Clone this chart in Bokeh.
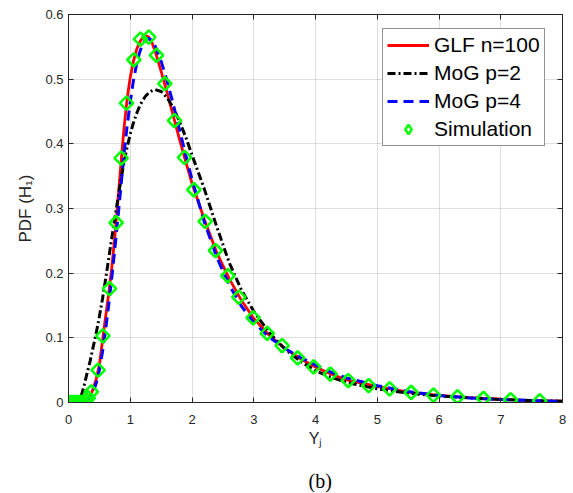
from bokeh.plotting import figure
from bokeh.models import (Range1d, FixedTicker, LinearAxis, Legend, LegendItem,
                          ColumnDataSource, Title)
from bokeh.embed import file_html
from bokeh.resources import INLINE

# ---------------- data ----------------
x_curve = [0, 0.1, 0.15, 0.2, 0.25, 0.3, 0.35, 0.4, 0.45, 0.5, 0.55, 0.6, 0.65, 0.7,
           0.75, 0.8, 0.85, 0.9, 0.95, 1.0, 1.05, 1.1, 1.15, 1.2, 1.25, 1.3, 1.35,
           1.4, 1.5, 1.6, 1.7, 1.8, 1.9, 2.0, 2.2, 2.4, 2.6, 2.8, 3.0, 3.25, 3.5,
           3.75, 4.0, 4.25, 4.5, 5.0, 5.5, 6.0, 6.5, 7.0, 7.5, 8.0]

glf_n100 = [0, 0, 0, 0, 0.001, 0.004, 0.010, 0.021, 0.037, 0.058, 0.095, 0.132, 0.167,
            0.208, 0.256, 0.312, 0.370, 0.425, 0.470, 0.503, 0.527, 0.545, 0.557,
            0.564, 0.567, 0.565, 0.557, 0.544, 0.512, 0.478, 0.442, 0.406, 0.372,
            0.339, 0.283, 0.232, 0.192, 0.158, 0.130, 0.104, 0.084, 0.068, 0.055,
            0.044, 0.035, 0.025, 0.016, 0.011, 0.0075, 0.005, 0.003, 0.002]

mog_p2 = [0, 0, 0.001, 0.008, 0.025, 0.045, 0.064, 0.086, 0.108, 0.133, 0.160, 0.190,
          0.222, 0.254, 0.285, 0.315, 0.345, 0.372, 0.395, 0.415, 0.432, 0.446, 0.458,
          0.467, 0.474, 0.479, 0.482, 0.484, 0.481, 0.471, 0.455, 0.434, 0.410, 0.383,
          0.330, 0.272, 0.217, 0.174, 0.141, 0.108, 0.083, 0.064, 0.049, 0.039, 0.031,
          0.021, 0.0145, 0.010, 0.007, 0.0045, 0.003, 0.002]

mog_p4 = [0, 0, 0, 0, 0.0005, 0.002, 0.007, 0.016, 0.030, 0.050, 0.078, 0.112, 0.150,
          0.192, 0.237, 0.285, 0.335, 0.385, 0.428, 0.465, 0.497, 0.522, 0.541, 0.554,
          0.561, 0.563, 0.560, 0.552, 0.528, 0.496, 0.460, 0.421, 0.382, 0.345, 0.279,
          0.225, 0.182, 0.149, 0.124, 0.101, 0.084, 0.070, 0.058, 0.047, 0.038, 0.026,
          0.017, 0.011, 0.007, 0.0045, 0.003, 0.0018]

sim_x = [0.0, 0.04, 0.08, 0.12, 0.16, 0.2, 0.24, 0.28, 0.32, 0.37, 0.48, 0.556, 0.664,
         0.772, 0.853, 0.939, 1.058, 1.166, 1.300, 1.425, 1.560, 1.717, 1.879, 2.03,
         2.213, 2.38, 2.58, 2.758, 2.99, 3.218, 3.46, 3.71, 3.97, 4.24, 4.53, 4.86,
         5.20, 5.55, 5.91, 6.30, 6.72, 7.16, 7.63]
sim_y = [0, 0, 0, 0, 0, 0, 0.001, 0.003, 0.007, 0.0166, 0.050, 0.103, 0.176, 0.278,
         0.378, 0.463, 0.530, 0.562, 0.565, 0.537, 0.493, 0.436, 0.379, 0.329, 0.280,
         0.235, 0.196, 0.163, 0.131, 0.107, 0.088, 0.069, 0.055, 0.044, 0.034, 0.026,
         0.021, 0.0155, 0.0114, 0.0088, 0.0062, 0.0042, 0.0026]

x_ticks = [0, 1, 2, 3, 4, 5, 6, 7, 8]
x_tick_labels = ["0", "1", "2", "3", "4", "5", "6", "7", "8"]
y_ticks = [0, 0.1, 0.2, 0.3, 0.4, 0.5, 0.6]
y_tick_labels = ["0", "0.1", "0.2", "0.3", "0.4", "0.5", "0.6"]

series_names = ["GLF n=100", "MoG p=2", "MoG p=4", "Simulation"]
y_axis_label = "PDF (H\u2081)"
x_axis_label = "Y\u2C7C"
caption = "(b)"

# ---------------- figure ----------------
AX = "#262626"
FONT = "Liberation Sans"

p = figure(width=573, height=493, x_range=Range1d(0, 8), y_range=Range1d(0, 0.6),
           output_backend="svg", toolbar_location=None,
           min_border_left=68, min_border_right=11, min_border_top=14,
           min_border_bottom=91, background_fill_color="white",
           border_fill_color="white")
p.outline_line_color = AX
p.outline_line_width = 1

for ax, ticks, labels in ((p.xaxis[0], x_ticks, x_tick_labels),
                          (p.yaxis[0], y_ticks, y_tick_labels)):
    ax.ticker = FixedTicker(ticks=ticks)
    ax.major_label_overrides = {t: l for t, l in zip(ticks, labels)}
    ax.minor_tick_line_color = None
    ax.major_tick_in = 5
    ax.major_tick_out = 0
    ax.axis_line_color = AX
    ax.major_tick_line_color = AX
    ax.major_label_text_color = AX
    ax.major_label_text_font = FONT
    ax.major_label_text_font_size = "13px"
    ax.axis_label_text_font = FONT
    ax.axis_label_text_font_style = "normal"
    ax.axis_label_text_color = AX

p.xaxis.major_label_standoff = 12
p.yaxis.major_label_standoff = 5
p.yaxis.axis_label = y_axis_label
p.yaxis.axis_label_text_font_size = "17px"
p.yaxis.axis_label_standoff = 7
p.xaxis.axis_label = x_axis_label
p.xaxis.axis_label_text_font_size = "16px"
p.xaxis.axis_label_standoff = 3

# ticks on top and right (box style)
for loc, ticks in (("right", y_ticks), ("above", x_ticks)):
    ax = LinearAxis(ticker=FixedTicker(ticks=ticks), major_tick_in=5, major_tick_out=0,
                    minor_tick_line_color=None, axis_line_color=AX,
                    major_tick_line_color=AX, major_label_text_font_size="0px",
                    major_label_standoff=0, major_label_text_color=None)
    p.add_layout(ax, loc)

p.xgrid.ticker = FixedTicker(ticks=x_ticks)
p.ygrid.ticker = FixedTicker(ticks=y_ticks)
p.grid.grid_line_color = AX
p.grid.grid_line_alpha = 0.15
p.grid.grid_line_width = 1

src = ColumnDataSource(dict(x=x_curve, glf=glf_n100, m2=mog_p2, m4=mog_p4))
sim = ColumnDataSource(dict(x=sim_x, y=sim_y))

r_glf = p.line("x", "glf", source=src, line_color="#ff0000", line_width=2.8)
r_m2 = p.line("x", "m2", source=src, line_color="black", line_width=3,
              line_dash="8 3 2 3")
r_m4 = p.line("x", "m4", source=src, line_color="#0000ff", line_width=3,
              line_dash="10 6")
p.scatter("x", "y", source=sim, marker="square", angle=0.7854, size=9.5,
          line_color="#00ff00", line_width=2.6, fill_color=None)
# legend swatch for the simulation markers (a single invisible NaN point)
nan = float("nan")
r_sim_leg = p.scatter(x=[nan], y=[nan], marker="diamond", size=15,
                      line_color="#00ff00", line_width=2.5, fill_color=None)

legend = Legend(items=[LegendItem(label=series_names[0], renderers=[r_glf]),
                       LegendItem(label=series_names[1], renderers=[r_m2]),
                       LegendItem(label=series_names[2], renderers=[r_m4]),
                       LegendItem(label=series_names[3], renderers=[r_sim_leg])],
                location=(314, 256), glyph_width=42, glyph_height=24,
                label_standoff=5, padding=4, spacing=4, margin=0,
                label_text_font=FONT, label_text_font_size="21px",
                label_text_color="black", border_line_color=AX,
                border_line_width=1, background_fill_color="white",
                background_fill_alpha=1)
p.add_layout(legend, "center")

# spacer between the x-axis label and the caption
p.add_layout(Title(text=" ", text_font_size="14px", standoff=0), "below")
cap = Title(text=caption, align="left", offset=240, text_font="Liberation Serif",
            text_font_size="20px", text_font_style="normal", text_color="black",
            standoff=0)
p.add_layout(cap, "below")

open("out.html", "w").write(file_html(p, INLINE))
